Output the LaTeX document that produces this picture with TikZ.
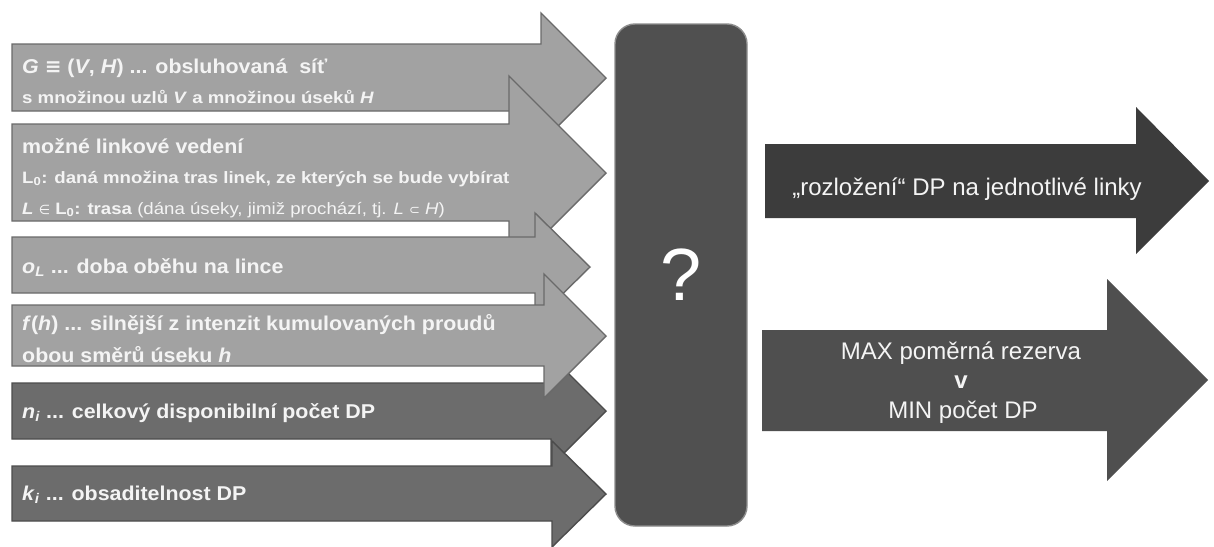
\documentclass[tikz,border=0pt]{standalone}
\usepackage{fontspec}
\setmainfont{Liberation Sans}
\newfontfamily\bigf[FakeStretch=1.07]{Liberation Sans}
\newfontfamily\smallf[FakeStretch=1.13]{Liberation Sans}
\newfontfamily\symf{DejaVu Sans}
\definecolor{lightfill}{HTML}{A2A2A2}
\definecolor{lightedge}{HTML}{6A6A6A}
\definecolor{darkfill}{HTML}{6C6C6C}
\definecolor{darkedge}{HTML}{4C4C4C}
\definecolor{boxfill}{HTML}{505050}
\definecolor{boxedge}{HTML}{8C8C8C}
\definecolor{rone}{HTML}{3C3C3C}
\definecolor{rtwo}{HTML}{4F4F4F}
\definecolor{txt}{HTML}{F4F4F4}
% body-left, body-top, body-bottom, head-base x, head-top, head-bottom, tip x, tip y
\newcommand\arshape[9]{%
  \path[#1] (#2,#3) -- (#5,#3) -- (#5,#6) -- (#8,#9) -- (#5,#7) -- (#5,#4) -- (#2,#4) -- cycle;}
\newcommand\smsym[1]{{\symf\mdseries\upshape\fontsize{13}{16}\selectfont #1}}
\begin{document}
\begin{tikzpicture}[x=1pt,y=-1pt,
  lightarrow/.style={fill=lightfill,draw=lightedge,line width=1.4pt,line join=miter},
  darkarrow/.style={fill=darkfill,draw=darkedge,line width=1.4pt,line join=miter},
  bigtxt/.style={anchor=base west,inner sep=0pt,text=txt,font=\bigf\bfseries\fontsize{20}{24}\selectfont},
  smalltxt/.style={anchor=base west,inner sep=0pt,text=txt,font=\smallf\bfseries\fontsize{16.5}{20}\selectfont},
  righttxt/.style={anchor=base,inner sep=0pt,text=txt,font=\fontsize{24}{28}\selectfont}]
\useasboundingbox (0,0) rectangle (1214,546);
\fill[white] (0,0) rectangle (1214,546);

% left input arrows (drawing order gives the overlaps)
\arshape{lightarrow}{12}{44}{111}{541}{13}{143}{606}{78}
\arshape{lightarrow}{12}{124}{221}{509}{76}{270}{606}{173}
\arshape{lightarrow}{12}{237}{293}{535}{213}{321}{590}{267}
\arshape{darkarrow}{12}{383}{439}{551}{356}{466}{606}{411}
\arshape{lightarrow}{12}{305}{366}{544}{274}{398}{606}{336}
\arshape{darkarrow}{12}{466}{521}{552}{441}{547}{606}{494}

\node[bigtxt] (t1a) at (22,73) {\textit{G} {\symf ≡} (\textit{V}, \textit{H}) ... obsluhovaná\ \ síť};
\node[smalltxt] (t1b) at (22,103) {s množinou uzlů \textit{V} a množinou úseků \textit{H}};
\node[bigtxt] (t2a) at (22,153) {možné linkové vedení};
\node[smalltxt] (t2b) at (22,183) {L\textsubscript{0}: daná množina tras linek, ze kterých se bude vybírat};
\node[smalltxt] (t2c) at (22,214) {\textit{L} \smsym{∈} L\textsubscript{0}: trasa {\mdseries (dána úseky, jimiž prochází, tj. \textit{L} \smsym{⊂} \textit{H})}};
\node[bigtxt] (t3) at (22,273) {\textit{o}\textsubscript{\textit{L}} ... doba oběhu na lince};
\node[bigtxt] (t4a) at (22,330) {\textit{f}(\textit{h}) ... silnější z intenzit kumulovaných proudů};
\node[bigtxt] (t4b) at (22,362) {obou směrů úseku \textit{h}};
\node[bigtxt] (t5) at (22,418) {\textit{n}\textsubscript{\textit{i}} ... celkový disponibilní počet DP};
\node[bigtxt] (t6) at (22,500) {\textit{k}\textsubscript{\textit{i}} ... obsaditelnost DP};

% central box
\draw[fill=boxfill,draw=boxedge,line width=1.4pt,rounded corners=20pt] (615,24) rectangle (747,526);
\node[inner sep=0pt,text=white,font=\fontsize{74}{80}\selectfont] (q) at (681,275) {?};

% right output arrows
\arshape{fill=rone}{765}{144}{218}{1136}{107}{254}{1209}{181}
\arshape{fill=rtwo}{762}{330}{431}{1107}{279}{481}{1208}{380}

\node[righttxt] (o1) at (967,195) {„rozložení“ DP na jednotlivé linky};
\node[righttxt] (o2a) at (961,359) {MAX poměrná rezerva};
\node[righttxt,font=\bfseries\fontsize{24}{28}\selectfont] (o2b) at (961,388) {v};
\node[righttxt] (o2c) at (963,418) {MIN počet DP};
\end{tikzpicture}
\end{document}
